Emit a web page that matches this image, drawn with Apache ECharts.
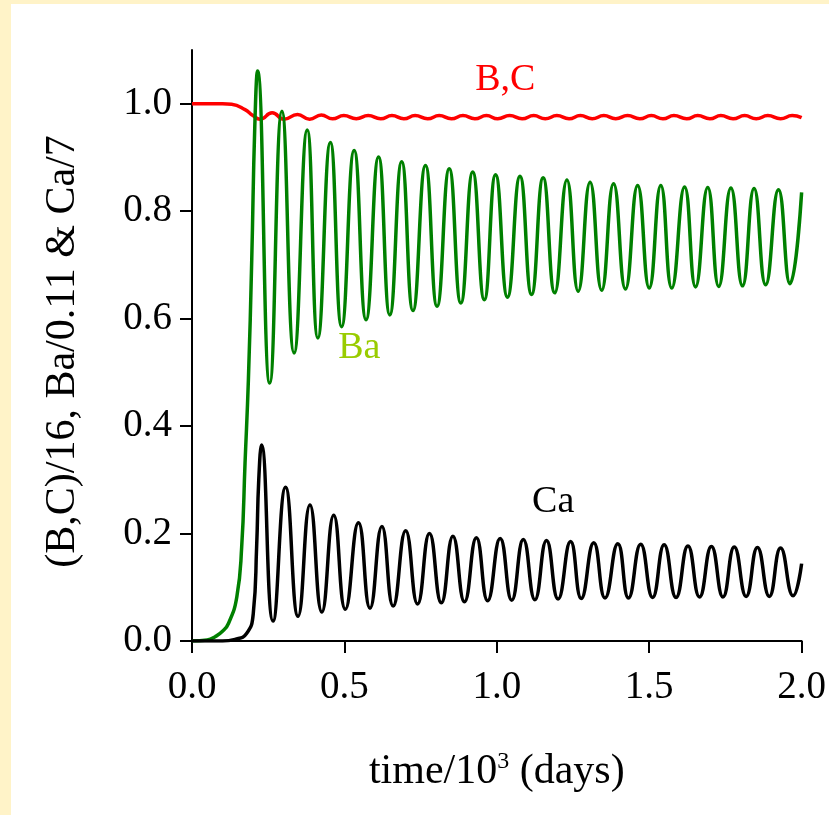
<!DOCTYPE html>
<html>
<head>
<meta charset="utf-8">
<script src="https://cdn.jsdelivr.net/npm/echarts@6/dist/echarts.min.js"></script>
<style>
  html, body { margin: 0; padding: 0; background: #fff; }
  #chart { width: 829px; height: 815px; }
</style>
</head>
<body>
<div id="chart"></div>
<script>
// values: [time/10^3, scaled value]
const bcData = [
  [0, 1.0], [0.10, 1.0], [0.13, 0.999], [0.174, 0.989], [0.200, 0.978], [0.223, 0.971],
  [0.263, 0.983], [0.302, 0.971], [0.346, 0.980], [0.386, 0.971], [0.424, 0.979], [0.461, 0.972],
  [0.498, 0.978], [0.539, 0.972], [0.578, 0.978], [0.619, 0.972], [0.656, 0.978], [0.695, 0.972],
  [0.732, 0.978], [0.773, 0.972], [0.811, 0.978], [0.851, 0.972], [0.889, 0.978], [0.928, 0.972],
  [0.966, 0.978], [1.003, 0.972], [1.042, 0.978], [1.083, 0.972], [1.121, 0.978], [1.159, 0.972],
  [1.197, 0.978], [1.237, 0.972], [1.274, 0.978], [1.313, 0.972], [1.351, 0.978], [1.390, 0.972],
  [1.429, 0.978], [1.469, 0.972], [1.507, 0.978], [1.545, 0.972], [1.581, 0.978], [1.623, 0.972],
  [1.659, 0.978], [1.699, 0.972], [1.735, 0.978], [1.775, 0.972], [1.813, 0.978], [1.851, 0.972],
  [1.889, 0.978], [1.931, 0.972], [1.969, 0.978], [2.0, 0.974]
];

const baData = [
  [0, 0], [0.05, 0.002], [0.076, 0.008], [0.10, 0.018], [0.12, 0.033], [0.147, 0.082],
  [0.163, 0.175], [0.174, 0.331], [0.185, 0.486], [0.196, 0.71], [0.206, 0.958], [0.215, 1.061],
  [0.255, 0.480], [0.295, 0.986], [0.335, 0.536], [0.378, 0.951], [0.413, 0.564], [0.454, 0.928],
  [0.491, 0.585], [0.532, 0.913], [0.571, 0.598], [0.612, 0.901], [0.649, 0.607], [0.688, 0.892],
  [0.725, 0.615], [0.766, 0.885], [0.804, 0.623], [0.844, 0.879], [0.882, 0.629], [0.921, 0.873],
  [0.959, 0.635], [0.996, 0.868], [1.035, 0.640], [1.076, 0.865], [1.114, 0.645], [1.152, 0.862],
  [1.190, 0.648], [1.230, 0.858], [1.267, 0.651], [1.306, 0.854], [1.344, 0.653], [1.383, 0.851],
  [1.422, 0.655], [1.462, 0.848], [1.500, 0.657], [1.538, 0.848], [1.574, 0.657], [1.616, 0.845],
  [1.652, 0.659], [1.692, 0.844], [1.728, 0.660], [1.768, 0.843], [1.806, 0.661], [1.844, 0.842],
  [1.882, 0.663], [1.924, 0.840], [1.962, 0.665], [2.0, 0.835]
];

const caData = [
  [0, 0], [0.10, 0.0], [0.141, 0.003], [0.179, 0.014], [0.201, 0.051], [0.212, 0.175],
  [0.219, 0.30], [0.228, 0.365], [0.266, 0.037], [0.307, 0.286], [0.348, 0.046], [0.387, 0.253],
  [0.426, 0.054], [0.465, 0.234], [0.503, 0.059], [0.546, 0.220], [0.584, 0.061], [0.623, 0.213],
  [0.660, 0.065], [0.701, 0.205], [0.740, 0.069], [0.779, 0.200], [0.818, 0.071], [0.856, 0.195],
  [0.894, 0.073], [0.933, 0.192], [0.970, 0.075], [1.011, 0.191], [1.049, 0.076], [1.087, 0.189],
  [1.125, 0.077], [1.163, 0.187], [1.201, 0.078], [1.242, 0.185], [1.277, 0.079], [1.318, 0.183],
  [1.355, 0.080], [1.397, 0.181], [1.432, 0.080], [1.472, 0.180], [1.511, 0.081], [1.549, 0.179],
  [1.588, 0.081], [1.627, 0.177], [1.665, 0.082], [1.704, 0.176], [1.742, 0.082], [1.779, 0.175],
  [1.818, 0.083], [1.855, 0.174], [1.894, 0.083], [1.931, 0.173], [1.972, 0.084], [2.0, 0.144]
];

const yTicks = [0, 0.2, 0.4, 0.6, 0.8, 1.0];
const xTicks = [0, 0.5, 1.0, 1.5, 2.0];

// curve names written on the plot: [name, x, y]
const bcLabel = ['B,C', 1.028, 1.045];
const baLabel = ['Ba', 0.549, 0.545];
const caLabel = ['Ca', 1.185, 0.259];

const serif = '"Liberation Serif", "Times New Roman", serif';

const chart = echarts.init(document.getElementById('chart'), null, { renderer: 'canvas' });

const tag = (lab, color) => ({
  silent: true,
  symbol: 'circle',
  symbolSize: 0,
  label: {
    show: true,
    position: 'inside',
    formatter: lab[0],
    color: color,
    fontFamily: serif,
    fontSize: 38
  },
  data: [{ coord: [lab[1], lab[2]] }]
});

const lineSeries = (name, data, color, lab, labColor) => ({
  name: name,
  type: 'line',
  data: data,
  smooth: 0.5,
  showSymbol: false,
  animation: false,
  lineStyle: { color: color, width: 3.5 },
  markPoint: tag(lab, labColor)
});

const option = {
  backgroundColor: '#FFF3C8',
  animation: false,
  graphic: [{
    type: 'rect',
    z: -10,
    shape: { x: 11, y: 4, width: 818, height: 811 },
    style: { fill: '#FFFFFF' }
  }],
  grid: { left: 192, right: 24, top: 50, bottom: 174 },
  xAxis: {
    type: 'value',
    min: 0,
    max: 2,
    interval: 0.5,
    name: 'time/10{sup|3} (days)',
    nameLocation: 'middle',
    nameGap: 109,
    nameTextStyle: {
      color: '#000',
      fontFamily: serif,
      fontSize: 42,
      rich: {
        sup: { fontFamily: serif, fontSize: 24, verticalAlign: 'top', padding: [0, 0, 20, 0] }
      }
    },
    axisLine: { lineStyle: { color: '#000', width: 2 } },
    axisTick: { show: true, length: 12, lineStyle: { color: '#000', width: 2 } },
    axisLabel: {
      color: '#000',
      fontFamily: serif,
      fontSize: 39,
      margin: 27,
      formatter: v => v.toFixed(1)
    },
    splitLine: { show: false }
  },
  yAxis: {
    type: 'value',
    min: 0,
    max: 1.1,
    name: '(B,C)/16, Ba/0.11 & Ca/7',
    nameLocation: 'middle',
    nameGap: 108,
    nameRotate: 90,
    nameTextStyle: {
      color: '#000',
      fontFamily: serif,
      fontSize: 42,
      padding: [0, 12, 0, 0]
    },
    axisLine: { show: true, lineStyle: { color: '#000', width: 2 } },
    axisTick: { show: true, length: 12, customValues: yTicks, lineStyle: { color: '#000', width: 2 } },
    axisLabel: {
      color: '#000',
      fontFamily: serif,
      fontSize: 39,
      margin: 20,
      customValues: yTicks,
      formatter: v => v.toFixed(1)
    },
    splitLine: { show: false }
  },
  series: [
    lineSeries('B,C', bcData, '#FF0000', bcLabel, '#FF0000'),
    lineSeries('Ba', baData, '#008000', baLabel, '#99CC00'),
    lineSeries('Ca', caData, '#000000', caLabel, '#000000')
  ]
};

chart.setOption(option);
</script>
</body>
</html>
